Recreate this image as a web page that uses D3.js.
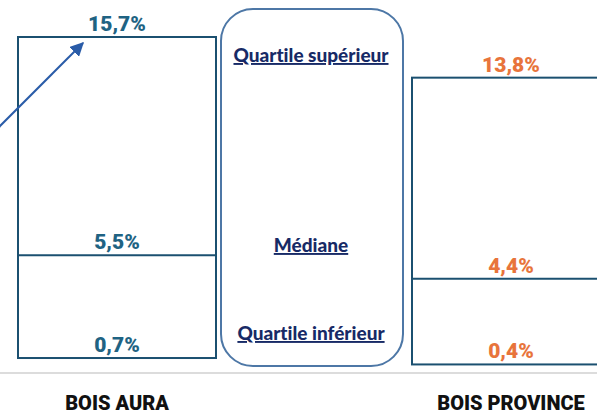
<!DOCTYPE html>
<html>
<head>
<meta charset="utf-8">
<script src="https://cdn.jsdelivr.net/npm/d3@7"></script>
<style>
  body { margin: 0; background: #fff; }
  svg { display: block; }
</style>
</head>
<body>
<div id="chart"></div>
<script>
// data
let categories = ["BOIS AURA", "BOIS PROVINCE"]
let q3 = [15.7, 13.8]
let median = [5.5, 4.4]
let q1 = [0.7, 0.4]
let labelColors = ["#1f6383", "#e8743b"]
let legendLabels = ["Quartile supérieur", "Médiane", "Quartile inférieur"]

let W = 597, H = 415
let svg = d3.select('#chart')
    .append('svg')
    .attr('width', W)
    .attr('height', H)

// common vertical scale, zero sits on the grey base line
let y = d3.scaleLinear().domain([0, 15.7]).range([373, 37])
let x = d3.scalePoint().domain(categories).range([117, 511])
let boxW = 198

// grey base line
svg.append('line')
    .attr('x1', 0).attr('x2', W)
    .attr('y1', y(0)).attr('y2', y(0))
    .attr('stroke', '#dcdcdc')
    .attr('stroke-width', 2)

// boxes
let boxes = svg.selectAll('g.box')
    .data(categories)
    .join('g')
    .attr('class', 'box')

boxes.append('rect')
    .attr('x', d => x(d) - boxW / 2)
    .attr('y', (d, i) => y(q3[i]))
    .attr('width', boxW)
    .attr('height', (d, i) => y(q1[i]) - y(q3[i]))
    .attr('fill', 'none')
    .attr('stroke', '#1b5070')
    .attr('stroke-width', 2)

boxes.append('line')
    .attr('x1', d => x(d) - boxW / 2)
    .attr('x2', d => x(d) + boxW / 2)
    .attr('y1', (d, i) => y(median[i]))
    .attr('y2', (d, i) => y(median[i]))
    .attr('stroke', '#1b5070')
    .attr('stroke-width', 2)

// value labels, just above each line
let fmt = v => d3.format('.1f')(v).replace('.', ',') + '%'
categories.forEach((c, i) => {
    [q3[i], median[i], q1[i]].forEach(v => {
        svg.append('text')
            .attr('x', x(c))
            .attr('y', y(v) - 6)
            .attr('text-anchor', 'middle')
            .style('font-family', 'Roboto, sans-serif')
            .style('font-weight', '900')
            .style('font-size', '21px')
            .style('fill', labelColors[i])
            .text(fmt(v))
    })
})

// category labels
svg.selectAll('text.cat')
    .data(categories)
    .join('text')
    .attr('class', 'cat')
    .attr('x', d => x(d))
    .attr('y', 410)
    .attr('text-anchor', 'middle')
    .style('font-family', 'Roboto, sans-serif')
    .style('font-weight', '900')
    .style('font-size', '20px')
    .style('fill', '#111')
    .text(d => d)

// legend frame in the middle
svg.append('rect')
    .attr('x', 221)
    .attr('y', 9)
    .attr('width', 182)
    .attr('height', 357)
    .attr('rx', 32)
    .attr('fill', 'none')
    .attr('stroke', '#4d77a6')
    .attr('stroke-width', 2)

let legendY = [62, 252, 340]
svg.selectAll('text.leg')
    .data(legendLabels)
    .join('text')
    .attr('class', 'leg')
    .attr('x', 311)
    .attr('y', (d, i) => legendY[i])
    .attr('text-anchor', 'middle')
    .style('font-family', 'Lato, sans-serif')
    .style('font-weight', '900')
    .style('font-size', '19px')
    .style('font-variant-ligatures', 'none')
    .style('fill', '#172a66')
    .style('text-decoration', 'underline')
    .text(d => d)

// arrow pointing at the top value
svg.append('defs').append('marker')
    .attr('id', 'head')
    .attr('viewBox', '0 0 10 10')
    .attr('refX', 9).attr('refY', 5)
    .attr('markerWidth', 7).attr('markerHeight', 7)
    .attr('orient', 'auto')
    .append('path')
    .attr('d', 'M0,0 L10,5 L0,10 Z')
    .attr('fill', '#2a5ca8')

svg.append('line')
    .attr('x1', -4).attr('y1', 130)
    .attr('x2', 83).attr('y2', 43)
    .attr('stroke', '#2a5ca8')
    .attr('stroke-width', 2)
    .attr('marker-end', 'url(#head)')
</script>
</body>
</html>
